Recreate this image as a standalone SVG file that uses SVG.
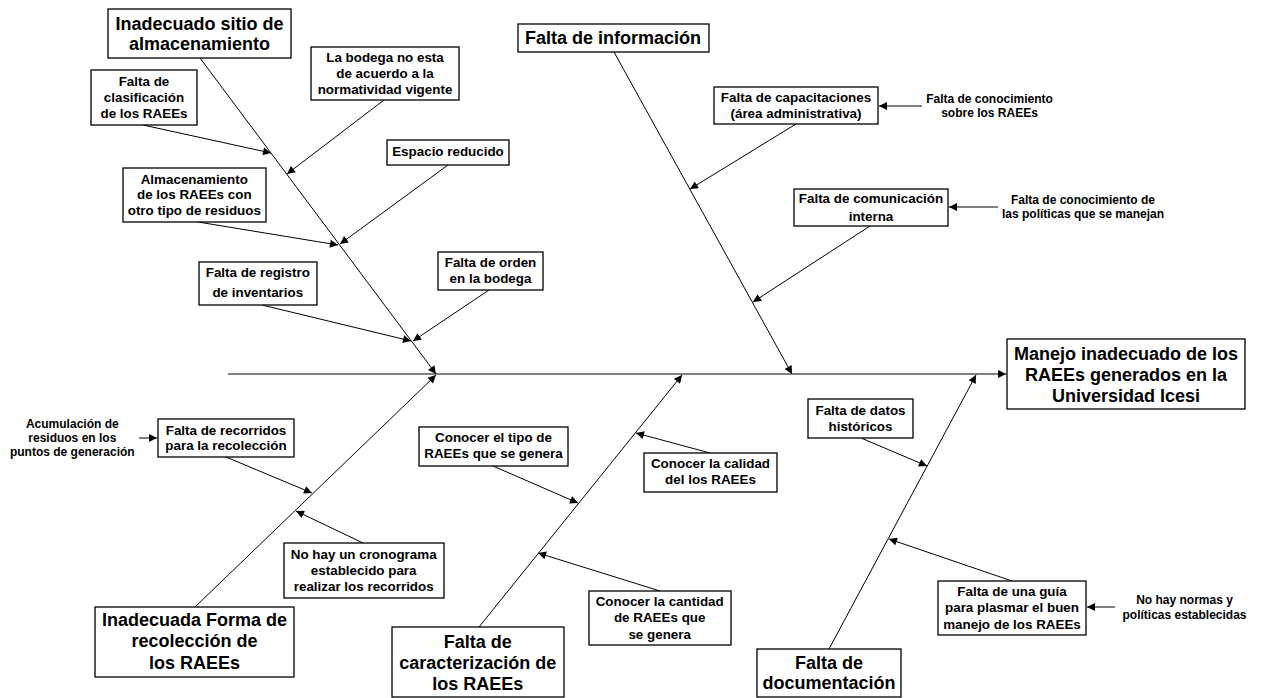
<svg xmlns="http://www.w3.org/2000/svg" width="1262" height="698" viewBox="0 0 1262 698">
<style>
text{font-family:"Liberation Sans",Arial,sans-serif;font-weight:bold;text-anchor:middle;fill:#000}
.b{font-size:18px}
.m{font-size:13.4px}
.s{font-size:12px}
rect{fill:#fff;stroke:#000;stroke-width:1.3}
.c line{stroke:#000;stroke-width:1;marker-end:url(#ah)}
</style>
<defs>
<marker id="ah" viewBox="0 0 10 10" refX="10" refY="5" markerWidth="10" markerHeight="8" markerUnits="userSpaceOnUse" orient="auto"><path d="M0,0 L10,5 L0,10 z" fill="#000"/></marker>
</defs>
<rect width="1262" height="698" style="fill:#fff;stroke:none"/>
<g id="connectors" class="c">
<line x1="228" y1="374" x2="1006" y2="374"/>
<line x1="200" y1="58" x2="436" y2="374"/>
<line x1="614" y1="52" x2="792" y2="374"/>
<line x1="195" y1="607" x2="436" y2="375"/>
<line x1="479" y1="627" x2="682" y2="375"/>
<line x1="829" y1="649" x2="976" y2="375"/>
<line x1="143" y1="125" x2="271" y2="153"/>
<line x1="384" y1="100" x2="287" y2="174"/>
<line x1="448" y1="165" x2="340" y2="244"/>
<line x1="198" y1="222" x2="338" y2="245"/>
<line x1="262" y1="305" x2="411" y2="341"/>
<line x1="489" y1="290" x2="413" y2="341"/>
<line x1="796" y1="124" x2="690" y2="189"/>
<line x1="870" y1="226" x2="753" y2="302"/>
<line x1="922" y1="106" x2="879" y2="106"/>
<line x1="998" y1="207" x2="949" y2="207"/>
<line x1="861" y1="438" x2="927" y2="466"/>
<line x1="1012" y1="581" x2="889" y2="539"/>
<line x1="1115" y1="607" x2="1087" y2="607"/>
<line x1="493" y1="466" x2="578" y2="503"/>
<line x1="710" y1="453" x2="636" y2="433"/>
<line x1="660" y1="591" x2="538" y2="553"/>
<line x1="226" y1="457" x2="312" y2="493"/>
<line x1="139" y1="438" x2="157" y2="438"/>
<line x1="363" y1="543" x2="296" y2="511"/>
</g>
<g id="n-sitio"><rect x="108" y="9" width="183" height="49"/><text class="b" x="199.5" y="29.6">Inadecuado sitio de</text><text class="b" x="199.5" y="49.6">almacenamiento</text></g>
<g id="n-clasif"><rect x="91" y="70" width="106" height="55"/><text class="m" x="144" y="86.3">Falta de</text><text class="m" x="144" y="102.3">clasificación</text><text class="m" x="144" y="117.9">de los RAEEs</text></g>
<g id="n-bodega"><rect x="311" y="47" width="148" height="53"/><text class="m" x="385" y="62.3">La bodega no esta</text><text class="m" x="385" y="77.9">de acuerdo a la</text><text class="m" x="385" y="93.9">normatividad vigente</text></g>
<g id="n-espacio"><rect x="387" y="140" width="122" height="25"/><text class="m" x="448" y="156.3">Espacio reducido</text></g>
<g id="n-almac"><rect x="123" y="168" width="143" height="54"/><text class="m" x="194.3" y="183.6">Almacenamiento</text><text class="m" x="194.3" y="198.9">de los RAEEs con</text><text class="m" x="194.3" y="214.6">otro tipo de residuos</text></g>
<g id="n-registro"><rect x="199" y="262" width="118" height="43"/><text class="m" x="257.8" y="277.3">Falta de registro</text><text class="m" x="257.8" y="296.9">de inventarios</text></g>
<g id="n-orden"><rect x="438" y="252" width="105" height="38"/><text class="m" x="490.5" y="267.3">Falta de orden</text><text class="m" x="490.5" y="282.9">en la bodega</text></g>
<g id="n-info"><rect x="518" y="24" width="191" height="28"/><text class="b" x="613" y="44">Falta de información</text></g>
<g id="n-capac"><rect x="714" y="87" width="164" height="37"/><text class="m" x="796" y="102.3">Falta de capacitaciones</text><text class="m" x="796" y="117.9">(área administrativa)</text></g>
<g id="n-conoc1"><text class="s" x="989.5" y="102.5">Falta de conocimiento</text><text class="s" x="989.5" y="116.5">sobre los RAEEs</text></g>
<g id="n-comun"><rect x="794" y="189" width="154" height="37"/><text class="m" x="871" y="203.3">Falta de comunicación</text><text class="m" x="871" y="220.6">interna</text></g>
<g id="n-conoc2"><text class="s" x="1083" y="204.2">Falta de conocimiento de</text><text class="s" x="1083" y="218.2">las políticas que se manejan</text></g>
<g id="n-head"><rect x="1007" y="339" width="238" height="70"/><text class="b" x="1126" y="359.6">Manejo inadecuado de los</text><text class="b" x="1126" y="380.6">RAEEs generados en la</text><text class="b" x="1126" y="402.3">Universidad Icesi</text></g>
<g id="n-datos"><rect x="808" y="399" width="105" height="39"/><text class="m" x="860.5" y="415.3">Falta de datos</text><text class="m" x="860.5" y="431.3">históricos</text></g>
<g id="n-guia"><rect x="938" y="581" width="148" height="54"/><text class="m" x="1012" y="596.3">Falta de una guía</text><text class="m" x="1012" y="612.3">para plasmar el buen</text><text class="m" x="1012" y="628.6">manejo de los RAEEs</text></g>
<g id="n-normas"><text class="s" x="1184.5" y="604.2">No hay normas y</text><text class="s" x="1184.5" y="619.2">políticas establecidas</text></g>
<g id="n-doc"><rect x="757" y="649" width="144" height="48"/><text class="b" x="829" y="668.6">Falta de</text><text class="b" x="829" y="689">documentación</text></g>
<g id="n-tipo"><rect x="419" y="427" width="149" height="39"/><text class="m" x="493.5" y="442.3">Conocer el tipo de</text><text class="m" x="493.5" y="458.3">RAEEs que se genera</text></g>
<g id="n-calidad"><rect x="644" y="453" width="133" height="39"/><text class="m" x="710.5" y="467.9">Conocer la calidad</text><text class="m" x="710.5" y="483.9">del los RAEEs</text></g>
<g id="n-cantidad"><rect x="589" y="591" width="142" height="54"/><text class="m" x="659.7" y="606.3">Conocer la cantidad</text><text class="m" x="659.7" y="622.3">de RAEEs que</text><text class="m" x="659.7" y="639.3">se genera</text></g>
<g id="n-caract"><rect x="392" y="627" width="172" height="70"/><text class="b" x="477.7" y="648">Falta de</text><text class="b" x="477.7" y="669">caracterización de</text><text class="b" x="477.7" y="689.6">los RAEEs</text></g>
<g id="n-recorr"><rect x="158" y="419" width="136" height="38"/><text class="m" x="226" y="434.6">Falta de recorridos</text><text class="m" x="226" y="449.9">para la recolección</text></g>
<g id="n-acum"><text class="s" x="72.3" y="427.5">Acumulación de</text><text class="s" x="72.3" y="442.2">residuos en los</text><text class="s" x="72.3" y="456.2">puntos de generación</text></g>
<g id="n-crono"><rect x="284" y="543" width="160" height="55"/><text class="m" x="363.7" y="558.9">No hay un cronograma</text><text class="m" x="363.7" y="575.3">establecido para</text><text class="m" x="363.7" y="591.3">realizar los recorridos</text></g>
<g id="n-forma"><rect x="95" y="607" width="199" height="70"/><text class="b" x="194.5" y="626.3">Inadecuada Forma de</text><text class="b" x="194.5" y="647.3">recolección de</text><text class="b" x="194.5" y="668.6">los RAEEs</text></g>
</svg>
